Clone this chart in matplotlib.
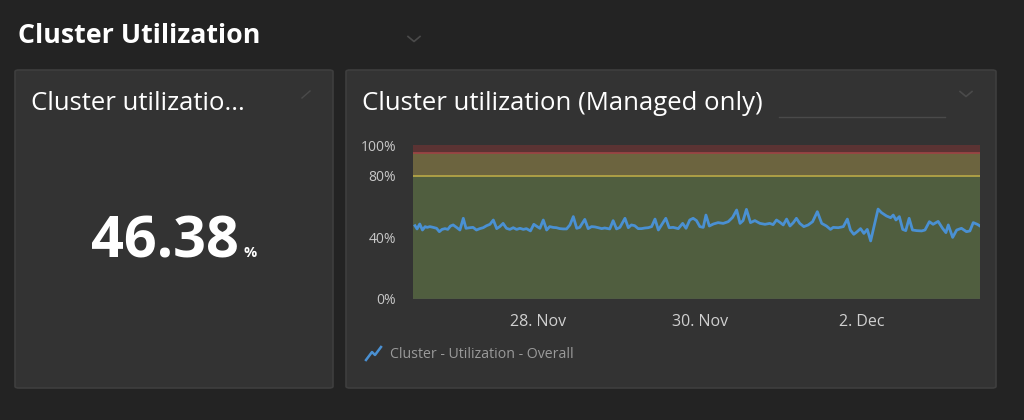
import datetime as dt
import matplotlib
matplotlib.use("Agg")
import matplotlib.pyplot as plt
from matplotlib.patches import FancyBboxPatch

# hours after 28 Nov 00:00 and utilization in percent
hours = [-36.4, -35.8, -35.0, -34.2, -33.4, -32.8, -32.0, -31.0, -30.0, -29.2,
         -28.4, -27.5, -26.7, -25.9, -25.1, -24.1, -23.1, -22.1, -21.3, -20.2,
         -19.2, -18.2, -17.2, -16.2, -15.2, -14.2, -13.2, -12.2, -11.3, -10.3,
         -9.3, -8.3, -7.3, -6.3, -5.3, -4.3, -3.4, -2.2, -1.2, -0.2,
         0.6, 1.6, 2.6, 3.5, 4.5, 5.5, 6.5, 7.5, 8.5, 9.5,
         10.5, 11.5, 12.4, 13.9, 14.9, 15.9, 16.9, 17.9, 18.9, 19.8,
         21.3, 22.3, 23.3, 24.3, 25.8, 26.8, 27.7, 28.7, 29.7, 30.7,
         31.7, 32.7, 33.7, 34.7, 35.7,
         37.9, 38.9, 40.1, 41.6, 42.9, 43.9, 45.0, 46.0, 47.0, 48.0,
         49.0, 49.8, 50.8, 52.0, 53.4, 54.9, 56.4, 57.7, 58.9, 59.9,
         60.8, 61.8, 63.0, 64.3, 65.8, 67.3, 68.7, 69.7, 70.7, 71.7,
         72.7, 73.7, 74.7, 75.7, 76.6, 77.6, 78.8, 80.1, 81.4, 82.8,
         84.1, 85.5, 86.7, 87.5, 89.0, 90.5, 91.7, 92.6, 93.6, 94.6,
         95.6, 96.6, 97.6, 98.6, 99.6, 100.8, 101.8, 103.3, 104.5, 105.3,
         106.1, 107.1, 108.1, 109.0, 110.0, 111.0, 112.2, 113.7, 114.7, 116.0,
         117.1, 118.6, 119.9, 120.9, 121.6, 122.9, 124.1, 125.5, 127.0, 128.0,
         129.0, 130.2, 131.0]
util = [47.6, 45.5, 48.7, 44.8, 47.0, 46.5, 47.0, 46.5, 45.9, 43.7,
        45.2, 45.7, 45.2, 47.4, 48.1, 46.5, 44.8, 52.4, 45.9, 46.3,
        46.5, 44.8, 45.7, 46.3, 47.6, 48.5, 51.3, 45.7, 47.0, 49.1,
        45.9, 45.2, 46.3, 45.2, 45.9, 45.2, 45.7, 44.2, 48.5, 47.0,
        45.9, 51.3, 44.8, 47.0, 46.5, 46.3, 45.7, 45.5, 45.5, 48.1,
        53.5, 45.9, 46.5, 51.7, 45.7, 47.0, 46.8, 46.3, 45.7, 46.1,
        45.5, 50.9, 45.5, 46.5, 52.4, 46.3, 48.1, 47.6, 45.7, 45.7,
        46.1, 46.3, 47.0, 51.9, 44.8,
        52.4, 46.3, 46.5, 45.7, 49.1, 45.9, 51.3, 52.4, 50.9, 47.0,
        46.5, 54.5, 47.4, 48.7, 49.6, 49.1, 50.2, 53.0, 57.8, 49.1,
        50.9, 58.2, 49.6, 50.9, 49.1, 48.5, 49.1, 48.3, 51.3, 49.8,
        48.1, 51.9, 47.4, 49.6, 52.4, 49.1, 47.0, 48.1, 50.2, 56.7,
        49.1, 47.4, 45.2, 46.5, 46.3, 47.0, 51.9, 44.8, 42.0, 43.7,
        45.7, 42.6, 45.2, 37.7, 47.0, 58.4, 56.1, 53.9, 52.8, 54.5,
        51.3, 53.5, 45.2, 44.4, 52.4, 44.8, 44.4, 44.2, 44.8, 50.2,
        48.5, 50.4, 45.9, 43.1, 48.1, 40.0, 44.8, 45.9, 43.7, 44.2,
        49.6, 48.5, 47.4]

y_ticks = [0, 40, 80, 100]
y_tick_labels = ["0%", "40%", "80%", "100%"]
x_tick_days = [dt.datetime(2023, 11, 28), dt.datetime(2023, 11, 30), dt.datetime(2023, 12, 2)]
x_tick_labels = ["28. Nov", "30. Nov", "2. Dec"]
warn_level = 80
crit_level = 95
single_value = "46.38"

base = dt.datetime(2023, 11, 28)
times = [base + dt.timedelta(hours=h) for h in hours]

W, H = 1024, 420
FONT = "Open Sans"
BG = "#232323"
PANEL = "#333333"
EDGE = "#3e3e3e"

fig = plt.figure(figsize=(W / 100, H / 100), dpi=100)
fig.patch.set_facecolor(BG)


def fx(px):
    return px / W


def fy(py):
    return 1 - py / H


def panel(x0, y0, x1, y1):
    p = FancyBboxPatch((fx(x0), fy(y1)), fx(x1 - x0), (y1 - y0) / H,
                       boxstyle="round,pad=0,rounding_size=0.004",
                       transform=fig.transFigure, facecolor=PANEL,
                       edgecolor=EDGE, linewidth=1.2, zorder=-1)
    fig.add_artist(p)


def chevron(cx, cy, w=6, h=5, color="#4a4a4a"):
    fig.add_artist(plt.Line2D([fx(cx - w), fx(cx), fx(cx + w)],
                              [fy(cy - h / 2), fy(cy + h / 2), fy(cy - h / 2)],
                              transform=fig.transFigure, color=color, lw=1.2))


# header
fig.text(fx(18), fy(36), "Cluster Utilization", color="white", fontsize=19.3,
         fontweight="bold", family=FONT, va="center", ha="left")
chevron(414, 39)

# left single value tile
panel(15, 70, 333, 388)
fig.text(fx(31), fy(104), "Cluster utilizatio...", color="white", fontsize=18.5,
         family=FONT, va="center", ha="left")
fig.add_artist(plt.Line2D([fx(302), fx(310)], [fy(98), fy(91)],
                          transform=fig.transFigure, color="#4a4a4a", lw=1))
fig.text(fx(239), fy(257), single_value, color="white", fontsize=41.5,
         fontweight="bold", family=FONT, va="baseline", ha="right")
fig.text(fx(243), fy(257), "%", color="white", fontsize=10.5,
         fontweight="bold", family=FONT, va="baseline", ha="left")

# right chart tile
panel(346, 70, 996, 388)
fig.text(fx(362), fy(104), "Cluster utilization (Managed only)", color="white",
         fontsize=18.5, family=FONT, va="center", ha="left")
fig.add_artist(plt.Line2D([fx(779), fx(945)], [fy(117), fy(117)],
                          transform=fig.transFigure, color="#4a4a4a", lw=1))
chevron(966, 94)

ax = fig.add_axes([fx(413), fy(299), fx(980 - 413), (299 - 145) / H])
ax.set_facecolor(PANEL)
ax.set_xlim(base + dt.timedelta(hours=-37.0), base + dt.timedelta(hours=131.0))
ax.set_ylim(0, 100)

ax.axhspan(0, warn_level, color="#505e3f", lw=0, zorder=1)
ax.axhspan(warn_level, crit_level, color="#6c643f", lw=0, zorder=1)
ax.axhspan(crit_level, 100, color="#5b3333", lw=0, zorder=1)
ax.axhline(warn_level, color="#b3a446", lw=1.3, zorder=2)
ax.axhline(crit_level, color="#9a4444", lw=1.3, zorder=2)

ax.plot(times, util, color="#4a90d2", lw=2, zorder=3)

for s in ax.spines.values():
    s.set_visible(False)
ax.axhline(0, color="#555555", lw=1, zorder=2)

ax.set_yticks(y_ticks)
ax.set_yticklabels(y_tick_labels)
ax.set_xticks(x_tick_days)
ax.set_xticklabels(x_tick_labels)
ax.tick_params(axis="y", length=0, pad=12, labelcolor="#c8c8c8", labelsize=10)
ax.tick_params(axis="x", length=0, pad=11, labelcolor="#d0d0d0", labelsize=11.5)
for lab in ax.get_xticklabels() + ax.get_yticklabels():
    lab.set_family(FONT)

# legend
fig.add_artist(plt.Line2D([fx(366), fx(372), fx(375), fx(381)],
                          [fy(360), fy(352), fy(355), fy(347)],
                          transform=fig.transFigure, color="#4a90d2", lw=1.8))
fig.text(fx(390), fy(355), "Cluster - Utilization - Overall", color="#9a9a9a",
         fontsize=10.2, family=FONT, va="center", ha="left")

fig.savefig("out.png", dpi=100, facecolor=BG)
